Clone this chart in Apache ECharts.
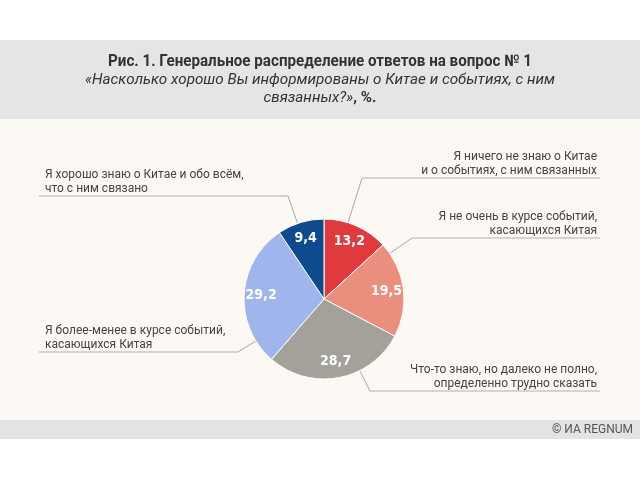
<!DOCTYPE html>
<html>
<head>
<meta charset="utf-8">
<script src="https://cdn.jsdelivr.net/npm/echarts@6/dist/echarts.min.js"></script>
<style>html,body{margin:0;padding:0;background:#fff}#c{width:640px;height:480px}</style>
</head>
<body>
<div id="c"></div>
<script>
// ---- data ----
const titleText = 'Рис. 1. Генеральное распределение ответов на вопрос № 1';
const subtitleLine1 = '«Насколько хорошо Вы информированы о Китае и событиях, с ним';
const subtitleLine2 = 'связанных?»';
const subtitleUnit = ', %.';
const categories = [
  'Я ничего не знаю о Китае\nи о событиях, с ним связанных',
  'Я не очень в курсе событий,\nкасающихся Китая',
  'Что-то знаю, но далеко не полно,\nопределенно трудно сказать',
  'Я более-менее в курсе событий,\nкасающихся Китая',
  'Я хорошо знаю о Китае и обо всём,\nчто с ним связано'
];
const values = [13.2, 19.5, 28.7, 29.2, 9.4];
const colors = ['#e03a3e', '#ea8f7d', '#a4a09a', '#9fb5ec', '#0d4a8e'];

// ---- layout (label underline start points, sides, underline lengths) ----
const labelElbows = [[362, 178], [412, 238], [370, 391], [238, 352], [288, 196]];
const labelSides = ['right', 'right', 'right', 'left', 'left'];
const underlineWidths = [238, 188, 230, 199, 249];
const titleWidth = 424, subtitleWidth = 470;

const FONT = 'Roboto';

function measure(text, font) {
  const ctx = document.createElement('canvas').getContext('2d');
  ctx.font = font;
  return ctx.measureText(text).width;
}
const titleFont = 'bold 16px ' + FONT;
const subFont = 'italic 15px ' + FONT;
const titleScale = titleWidth / measure(titleText, titleFont);
const subScale = subtitleWidth / measure(subtitleLine1, subFont);

function outerLabel(i) {
  const side = labelSides[i];
  const lines = categories[i].split('\n');
  const key = side === 'right' ? 'tr' : 'tl';
  const r = {
    tr: { fontFamily: FONT, fontSize: 12, lineHeight: 14, color: '#444', align: 'right', padding: [0, 3, 0, 0] },
    tl: { fontFamily: FONT, fontSize: 12, lineHeight: 14, color: '#444', align: 'left', padding: [0, 0, 0, 6] },
    sp: { fontSize: 1, lineHeight: 28, height: 28 }
  };
  r['u' + i] = { width: underlineWidths[i], height: 1, lineHeight: 1, fontSize: 1, backgroundColor: '#b0b0b0' };
  return {
    width: underlineWidths[i],
    formatter: lines.map(l => '{' + key + '|' + l + '}').join('\n') + '\n{u' + i + '| }\n{sp| }',
    rich: r
  };
}

const pieData = values.map((v, i) => ({
  value: v,
  name: categories[i],
  itemStyle: { color: colors[i] },
  label: outerLabel(i)
}));
const valueData = values.map((v, i) => ({ value: v, name: categories[i] }));

const chart = echarts.init(document.getElementById('c'), null, { renderer: 'canvas' });

function nearestOnSector(i, ex, ey) {
  const lay = chart.getModel().getSeriesByIndex(0).getData().getItemLayout(i);
  let s = Math.min(lay.startAngle, lay.endAngle), e = Math.max(lay.startAngle, lay.endAngle);
  let a = Math.atan2(ey - lay.cy, ex - lay.cx);
  while (a < s) a += Math.PI * 2;
  while (a >= s + Math.PI * 2) a -= Math.PI * 2;
  if (a > e) {
    a = (a - e) < (s + Math.PI * 2 - a) ? e : s;
  }
  return [lay.cx + lay.r * Math.cos(a), lay.cy + lay.r * Math.sin(a)];
}

chart.setOption({
  animation: false,
  backgroundColor: '#ffffff',
  graphic: [
    { type: 'rect', z: -10, shape: { x: 0, y: 40, width: 640, height: 79 }, style: { fill: '#e5e5e5' } },
    { type: 'rect', z: -10, shape: { x: 0, y: 119, width: 640, height: 301 }, style: { fill: '#fcf8f4' } },
    { type: 'rect', z: -10, shape: { x: 0, y: 420, width: 640, height: 19 }, style: { fill: '#e3e3e3' } },
    { type: 'text', z: 5, x: 320, y: 62, scaleX: titleScale,
      style: { text: titleText, fill: '#333', font: titleFont, textAlign: 'center', textVerticalAlign: 'middle' } },
    { type: 'text', z: 5, x: 320, y: 80, scaleX: subScale,
      style: { text: subtitleLine1, fill: '#333', font: subFont, textAlign: 'center', textVerticalAlign: 'middle' } },
    { type: 'text', z: 5, x: 320, y: 98, scaleX: subScale,
      style: {
        text: '{i|' + subtitleLine2 + '}{b|' + subtitleUnit + '}', textAlign: 'center', textVerticalAlign: 'middle',
        rich: {
          i: { fontFamily: FONT, fontStyle: 'italic', fontSize: 15, fill: '#333' },
          b: { fontFamily: FONT, fontWeight: 'bold', fontSize: 15, fill: '#333' }
        }
      } },
    { type: 'text', z: 5, x: 633, y: 430, style: { text: '© ИА REGNUM', fill: '#555', font: '12px ' + FONT, textAlign: 'right', textVerticalAlign: 'middle' } }
  ],
  series: [
    {
      type: 'pie',
      center: [324, 299],
      radius: [0, 80],
      startAngle: 90,
      clockwise: true,
      avoidLabelOverlap: false,
      silent: true,
      itemStyle: { borderColor: '#ffffff', borderWidth: 1 },
      label: { show: true, position: 'outside', bleedMargin: 0 },
      labelLine: { show: true, length: 10, length2: 0, lineStyle: { color: '#a8a8a8', width: 1 } },
      labelLayout: function (p) {
        const i = p.dataIndex;
        const ex = labelElbows[i][0], ey = labelElbows[i][1];
        const res = {
          x: ex,
          y: ey,
          align: labelSides[i] === 'right' ? 'left' : 'right',
          verticalAlign: 'middle'
        };
        try {
          const st = nearestOnSector(i, ex, ey);
          res.labelLinePoints = [st, [ex, ey], [ex, ey]];
        } catch (err) {}
        return res;
      },
      data: pieData
    },
    {
      type: 'pie',
      center: [324, 299],
      radius: [40, 80],
      startAngle: 90,
      clockwise: true,
      silent: true,
      z: 5,
      itemStyle: { color: 'rgba(0,0,0,0)' },
      label: {
        show: true,
        position: 'inside',
        formatter: p => String(p.value).replace('.', ','),
        fontFamily: 'DejaVu Sans Condensed',
        fontWeight: 'bold',
        fontSize: 14,
        color: '#ffffff'
      },
      labelLine: { show: false },
      data: valueData
    }
  ]
});
</script>
</body>
</html>
